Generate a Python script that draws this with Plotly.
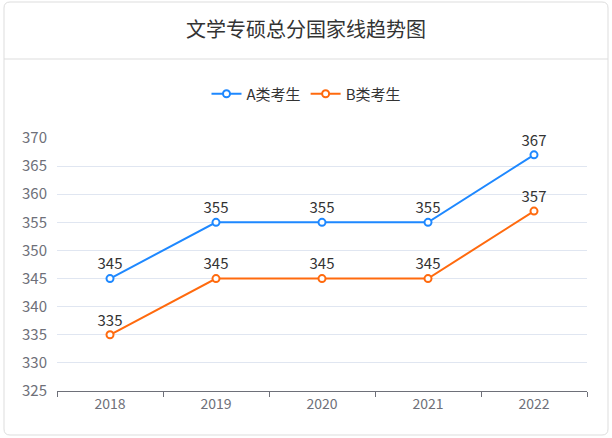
import plotly.graph_objects as go

years = ["2018", "2019", "2020", "2021", "2022"]
a_scores = [345, 355, 355, 355, 367]
b_scores = [335, 345, 345, 345, 357]
series_names = ["A类考生", "B类考生"]
title_text = "文学专硕总分国家线趋势图"

FONT = "Noto Sans CJK SC, Microsoft YaHei, sans-serif"
colors = ["#1E88FF", "#FF6A0E"]

fig = go.Figure()
for name, vals, c in zip(series_names, [a_scores, b_scores], colors):
    fig.add_trace(go.Scatter(
        x=years, y=vals, name=name, mode="lines+markers+text",
        line=dict(color=c, width=2),
        marker=dict(size=7, color="white", line=dict(color=c, width=2)),
        text=[str(v) for v in vals], textposition="top center",
        textfont=dict(size=15, color="#333333", family=FONT),
        cliponaxis=False,
    ))

L, R, B, T, r = -53, 551, -44, 389, 6
path = (f"M {L+r},{B} L {R-r},{B} Q {R},{B} {R},{B+r} L {R},{T-r} Q {R},{T} {R-r},{T} "
        f"L {L+r},{T} Q {L},{T} {L},{T-r} L {L},{B+r} Q {L},{B} {L+r},{B} Z")

fig.update_layout(
    width=612, height=438,
    margin=dict(l=57, r=25, t=138, b=47),
    paper_bgcolor="white", plot_bgcolor="white",
    font=dict(family=FONT, color="#6E7079"),
    title=dict(text=title_text, x=0.5, xanchor="center", xref="container",
               y=1 - 30 / 438, yref="container", yanchor="middle",
               font=dict(size=20, color="#333333", family=FONT)),
    legend=dict(orientation="h", x=0.5, xanchor="center", xref="container",
                y=1 - 94 / 438, yref="container", yanchor="middle",
                font=dict(size=15, color="#333333", family=FONT),
                itemwidth=30, traceorder="normal"),
    showlegend=True,
    xaxis=dict(type="category", range=[-0.5, 4.5], showgrid=False,
               showline=True, linecolor="#6E7079", linewidth=1,
               ticks="outside", tickson="boundaries", ticklen=5, tickcolor="#6E7079",
               tickfont=dict(size=14, color="#6E7079"), fixedrange=True),
    yaxis=dict(range=[325, 370], dtick=5, tick0=325, showgrid=True,
               gridcolor="#E0E6F1", gridwidth=1, zeroline=False, showline=False,
               ticks="", ticklabelstandoff=9,
               tickfont=dict(size=15, color="#6E7079")),
    shapes=[
        dict(type="path", xref="paper", yref="paper", xsizemode="pixel", ysizemode="pixel",
             xanchor=0, yanchor=0, path=path, line=dict(color="#DDDDDD", width=1), layer="below"),
        dict(type="line", xref="paper", yref="paper", xsizemode="pixel", ysizemode="pixel",
             xanchor=0, yanchor=0, x0=L, x1=R, y0=391 - 59, y1=391 - 59,
             line=dict(color="#DDDDDD", width=1)),
    ],
)

fig.write_html("out.html", config={"displayModeBar": False},
               post_script="document.body.style.margin='0';document.body.style.overflow='hidden';")
